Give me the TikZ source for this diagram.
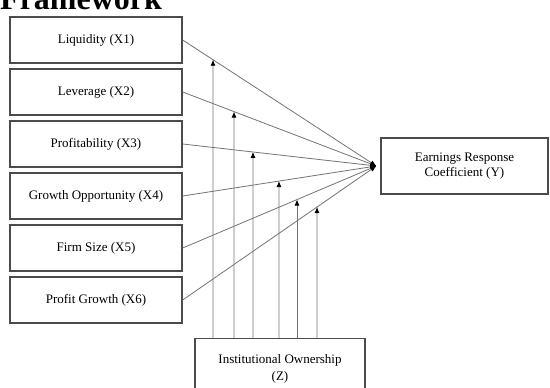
\documentclass[tikz,border=0pt]{standalone}
\usepackage{fontspec}
\setmainfont{Liberation Serif}
\usetikzlibrary{arrows.meta}
\begin{document}
\begin{tikzpicture}[x=1pt,y=1pt,
    varbox/.style={draw=black!70,line width=1.4pt,minimum width=172pt,minimum height=46pt,
      inner sep=0pt,font=\fontsize{13}{15}\selectfont,align=center},
    link/.style={draw=black!55,line width=0.8pt,-{Latex[length=6pt,width=5pt,black]}}]
  \clip (0,0) rectangle (550,388);
  \node[anchor=base west,font=\bfseries\fontsize{32}{36}\selectfont,inner sep=0pt] (title) at (0,378) {Framework};
  \node[varbox] (x1) at (96,348) {Liquidity (X1)};
  \node[varbox] (x2) at (96,296) {Leverage (X2)};
  \node[varbox] (x3) at (96,244) {Profitability (X3)};
  \node[varbox] (x4) at (96,192) {Growth Opportunity (X4)};
  \node[varbox] (x5) at (96,140) {Firm Size (X5)};
  \node[varbox] (x6) at (96,88) {Profit Growth (X6)};
  \node[varbox,minimum width=167pt,minimum height=56pt] (y) at (464.5,222) {Earnings Response\\Coefficient (Y)};
  \node[varbox,minimum width=170pt,minimum height=60pt,anchor=north] (z) at (280,50) {Institutional Ownership\\[2pt](Z)};
  \coordinate (conv) at ([xshift=-4pt]y.west);
  \begin{scope}[link]
    \draw (x1.east) -- (conv);
    \draw (x2.east) -- (conv);
    \draw (x3.east) -- (conv);
    \draw (x4.east) -- (conv);
    \draw (x5.east) -- (conv);
    \draw (x6.east) -- (conv);
  \end{scope}
  \begin{scope}[link]
    \foreach \k/\px in {1/213,2/234,3/253,4/279,5/297,6/317} {
      \coordinate (zb\k) at (\px,50);
      \coordinate (zt\k) at (\px,388);
      \draw (zb\k) -- (intersection of x\k.east--conv and zb\k--zt\k);
    }
  \end{scope}
\end{tikzpicture}
\end{document}
